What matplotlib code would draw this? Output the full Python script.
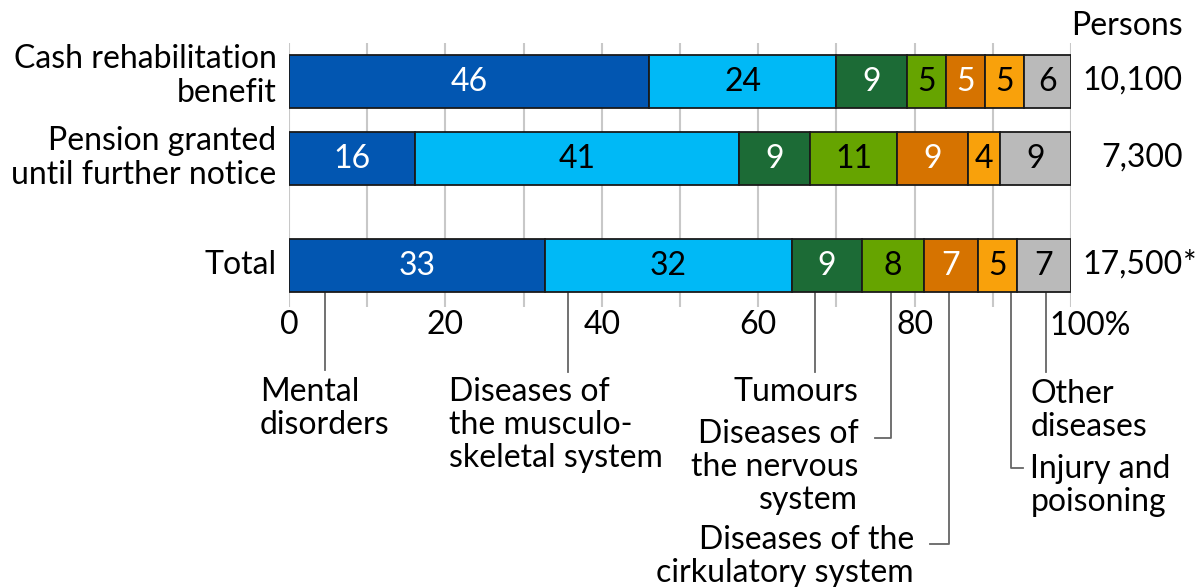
import matplotlib
matplotlib.use("Agg")
import matplotlib.pyplot as plt

plt.rcParams['font.family'] = ['Lato', 'DejaVu Sans']

categories = ["Cash rehabilitation\nbenefit", "Pension granted\nuntil further notice", "Total"]
persons = ["10,100", "7,300", "17,500"]
series_names = ["Mental disorders", "Diseases of the musculo-skeletal system", "Tumours",
                "Diseases of the nervous system", "Diseases of the cirkulatory system",
                "Injury and poisoning", "Other diseases"]
values = [
    [46, 24, 9, 5, 5, 5, 6],
    [16, 41, 9, 11, 9, 4, 9],
    [33, 32, 9, 8, 7, 5, 7],
]
colors = ["#0256B1", "#00B9F6", "#1C6B36", "#66A400", "#D67300", "#F9A10B", "#BABABA"]
text_colors = ["white", "black", "white", "black", "white", "black", "black"]
xticks = [0, 20, 40, 60, 80]
xticklabels = ["0", "20", "40", "60", "80"]

W, H = 1200, 587
fig = plt.figure(figsize=(W / 100, H / 100), dpi=100)
ax_top, ax_bot = 43, 307
ax = fig.add_axes([289 / W, (H - ax_bot) / H, (1071 - 289) / W, (ax_bot - ax_top) / H])
ax.set_xlim(0, 100)
ax.set_ylim(ax_bot, ax_top)
for s in ax.spines.values():
    s.set_visible(False)
ax.set_yticks([])
fs = 23
ax.set_xticks(xticks)
ax.set_xticklabels(xticklabels, fontsize=fs)
ax.tick_params(axis='x', length=0, pad=2)
for g in range(0, 101, 10):
    ax.axvline(g, color="#C8C8C8", lw=1.5, zorder=0)

ypos = [81, 158, 265]
label_shift = [-5, 0, 0]
bh = 53
ls = 1.15
for i, row in enumerate(values):
    total = sum(row)
    left = 0
    for j, v in enumerate(row):
        w = v / total * 100
        ax.barh(ypos[i], w, left=left, height=bh, color=colors[j], edgecolor="#1a1a1a",
                linewidth=1.3, zorder=2)
        ax.text(left + w / 2, ypos[i] + 1, str(v), ha='center', va='center',
                color=text_colors[j], fontsize=fs, zorder=3)
        left += w
    ax.text(-1.6, ypos[i] + label_shift[i], categories[i], ha='right', va='center',
            fontsize=fs, linespacing=ls)
    ax.text(114.3, ypos[i], persons[i], ha='right', va='center', fontsize=fs)
ax.text(114.3, ypos[2], "*", ha='left', va='center', fontsize=fs)
ax.text(114.3, 26, "Persons", ha='right', va='center', fontsize=fs)
ax.text(97.2, 326, "100%", ha='left', va='center', fontsize=fs)

lc = "#666666"
lw = 1.3
def leader(x, y_end, x_end=None):
    xs = [x, x] if x_end is None else [x, x, x_end]
    ys = [293, y_end] if x_end is None else [293, y_end, y_end]
    ax.plot(xs, ys, color=lc, lw=lw, clip_on=False, zorder=1)

def label(x, y_center_first, txt, ha):
    for k, line in enumerate(txt.split("\n")):
        ax.text(x, y_center_first + 11 + 33 * k, line, ha=ha, va='baseline', fontsize=fs)

leader(4.6, 370)
label(-3.7, 390, "Mental\ndisorders", 'left')
leader(35.7, 372)
label(20.5, 390, "Diseases of\nthe musculo-\nskeletal system", 'left')
leader(67.3, 372)
label(72.8, 390, "Tumours", 'right')
leader(77.0, 438, 74.9)
label(72.8, 432, "Diseases of\nthe nervous\nsystem", 'right')
leader(84.4, 544, 82.0)
label(79.9, 538, "Diseases of the\ncirkulatory system", 'right')
leader(92.3, 468, 93.9)
label(94.8, 467, "Injury and\npoisoning", 'left')
leader(96.8, 372)
label(94.8, 392, "Other\ndiseases", 'left')

fig.savefig("out.png", dpi=100)
